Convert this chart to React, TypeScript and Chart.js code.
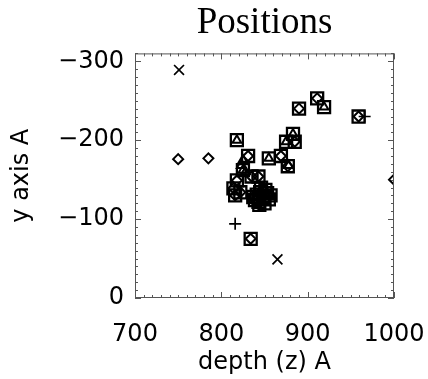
import React, { useEffect, useRef } from "react";
import { Chart, registerables } from "chart.js";

Chart.register(...registerables);

// Squares (boxes) positions: depth (z), y
const squareX = [818, 855, 919, 875, 883, 825, 857, 851, 890, 911, 869, 877, 831, 885, 959, 834, 818, 814, 835, 843, 822, 816, 837, 845, 843, 839, 848, 850, 853, 846, 841, 849, 844, 855];
const squareY = [-200, -177, -242, -198, -208, -162, -130, -137, -240, -253, -180, -167, -180, -198, -230, -75, -149, -139, -154, -154, -134, -130, -128, -134, -122, -124, -128, -120, -133, -140, -131, -126, -118, -125];

// Triangles
const triangleX = [818, 855, 919, 875, 883, 825, 857, 851, 825, 823, 828, 878];
const triangleY = [-200, -177, -242, -198, -208, -162, -130, -137, -175, -168, -160, -168];

// Diamonds
const diamondX = [890, 911, 869, 877, 831, 885, 959, 834, 818, 814, 835, 843, 822, 816, 837, 845, 843, 839, 750, 785, 1000];
const diamondY = [-240, -253, -180, -167, -180, -198, -230, -75, -149, -139, -154, -154, -134, -130, -128, -134, -122, -124, -176, -177, -150];

// Plus signs
const plusX = [816, 966];
const plusY = [-94, -230];

// X marks
const crossX = [751, 865];
const crossY = [-289, -49];

const xTicks = [700, 800, 900, 1000];
const yTicks = [-300, -200, -100, 0];

const toPoints = (xs: number[], ys: number[]) => xs.map((x, i) => ({ x, y: ys[i] }));

const framePlugin = {
  id: "frameTicks",
  afterDatasetsDraw(chart: any) {
    const { ctx, chartArea, scales } = chart;
    const { left, right, top, bottom } = chartArea;
    const xs = scales.x;
    const ys = scales.y;
    ctx.save();
    ctx.strokeStyle = "#555";
    ctx.lineWidth = 1;
    ctx.strokeRect(left + 0.5, top + 0.5, right - left - 1, bottom - top - 1);
    ctx.beginPath();
    for (let v = 700; v <= 1000; v += 10) {
      const px = Math.round(xs.getPixelForValue(v)) + 0.5;
      const len = v % 100 === 0 ? 6 : 3;
      ctx.moveTo(px, bottom);
      ctx.lineTo(px, bottom - len);
      ctx.moveTo(px, top);
      ctx.lineTo(px, top + len);
    }
    for (let v = -310; v <= 0; v += 10) {
      const py = Math.round(ys.getPixelForValue(v)) + 0.5;
      const len = v % 100 === 0 ? 6 : 3;
      ctx.moveTo(left, py);
      ctx.lineTo(left + len, py);
      ctx.moveTo(right, py);
      ctx.lineTo(right - len, py);
    }
    ctx.stroke();
    ctx.restore();
  },
};

export default function App() {
  const ref = useRef<HTMLCanvasElement>(null);
  useEffect(() => {
    if (!ref.current) return;
    const axisFont = { family: "'DejaVu Sans', sans-serif", size: 24 };
    const chart = new Chart(ref.current, {
      type: "scatter",
      data: {
        datasets: [
          {
            data: toPoints(squareX, squareY),
            pointStyle: "rect",
            pointRadius: 8.5,
            borderWidth: 2.3,
            borderColor: "#000",
            backgroundColor: "rgba(0,0,0,0)",
          },
          {
            data: toPoints(triangleX, triangleY),
            pointStyle: "triangle",
            pointRadius: 5,
            borderWidth: 2,
            borderColor: "#000",
            backgroundColor: "rgba(0,0,0,0)",
          },
          {
            data: toPoints(diamondX, diamondY),
            pointStyle: "rectRot",
            pointRadius: 5,
            borderWidth: 2,
            borderColor: "#000",
            backgroundColor: "rgba(0,0,0,0)",
            clip: 0,
          },
          {
            data: toPoints(plusX, plusY),
            pointStyle: "cross",
            pointRadius: 6,
            borderWidth: 1.7,
            borderColor: "#000",
            backgroundColor: "rgba(0,0,0,0)",
          },
          {
            data: toPoints(crossX, crossY),
            pointStyle: "crossRot",
            pointRadius: 7,
            borderWidth: 1.7,
            borderColor: "#000",
            backgroundColor: "rgba(0,0,0,0)",
          },
        ],
      },
      options: {
        animation: false,
        responsive: false,
        layout: { padding: { left: 0, right: 34, top: 0, bottom: 0 } },
        plugins: {
          legend: { display: false },
          tooltip: { enabled: false },
          title: {
            display: true,
            text: "Positions",
            fullSize: false,
            color: "#000",
            font: { family: "'Liberation Serif', 'Times New Roman', serif", size: 37, weight: "normal" },
            padding: { top: 1, bottom: 8 },
          },
        },
        scales: {
          x: {
            type: "linear",
            min: 700,
            max: 1000,
            grid: { display: false, drawTicks: false },
            border: { display: false },
            afterBuildTicks: (s: any) => {
              s.ticks = xTicks.map((v) => ({ value: v }));
            },
            afterFit: (s: any) => {
              s.height = 81;
              s.paddingRight = 0;
              s.paddingLeft = 0;
            },
            ticks: {
              color: "#000",
              font: axisFont,
              padding: 22,
              maxRotation: 0,
              callback: (v: any) => String(v),
            },
            title: {
              display: true,
              text: "depth (z) A",
              color: "#000",
              font: axisFont,
              padding: { top: 0, bottom: 2 },
            },
          },
          y: {
            type: "linear",
            min: -310,
            max: 0,
            reverse: true,
            grid: { display: false, drawTicks: false },
            border: { display: false },
            afterBuildTicks: (s: any) => {
              s.ticks = yTicks.map((v) => ({ value: v }));
            },
            afterFit: (s: any) => {
              s.width = 135;
              s.paddingTop = 0;
              s.paddingBottom = 0;
            },
            ticks: {
              color: "#000",
              font: axisFont,
              padding: 11,
              callback: (v: any) => (Number(v) < 0 ? "\u2212" + Math.abs(Number(v)) : String(v)),
            },
            title: {
              display: true,
              text: "y axis A",
              color: "#000",
              font: axisFont,
              padding: { top: 7, bottom: 0 },
            },
          },
        },
      },
      plugins: [framePlugin],
    });
    return () => chart.destroy();
  }, []);
  return (
    <div style={{ position: "fixed", left: 0, top: 0, width: 428, height: 379, background: "#fff" }}>
      <canvas ref={ref} width={428} height={379} />
    </div>
  );
}
